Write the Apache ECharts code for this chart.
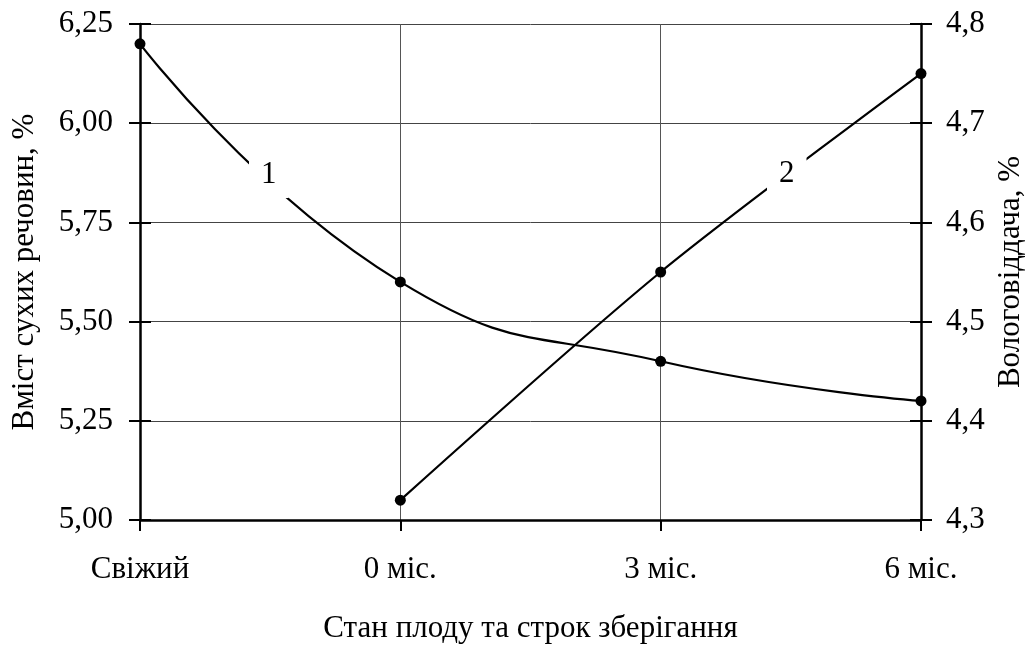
<!DOCTYPE html>
<html>
<head>
<meta charset="utf-8">
<script src="https://cdn.jsdelivr.net/npm/echarts@6/dist/echarts.min.js"></script>
<style>
  html, body { margin: 0; padding: 0; background: #fff; }
  #chart { width: 1033px; height: 645px; }
</style>
</head>
<body>
<div id="chart"></div>
<script>
// дані з графіка
var categories = ['Свіжий', '0 міс.', '3 міс.', '6 міс.'];
var dryMatter = [6.20, 5.60, 5.40, 5.30];      // крива 1, ліва вісь
var moistureLoss = [null, 4.32, 4.55, 4.75];   // крива 2, права вісь

var font = 'Liberation Serif';
var fs = 31;

function comma(digits) {
    return function (v) { return v.toFixed(digits).replace('.', ','); };
}

var chart = echarts.init(document.getElementById('chart'));

var option = {
    animation: false,
    backgroundColor: '#fff',
    textStyle: {fontFamily: font, color: '#000'},
    grid: {left: 140, right: 112, top: 24, bottom: 125, outerBoundsMode: 'none', containLabel: false},
    xAxis: {
        type: 'category',
        data: categories,
        boundaryGap: false,
        name: 'Стан плоду та строк зберігання',
        nameLocation: 'middle',
        nameGap: 93,
        nameTextStyle: {fontSize: fs, fontFamily: font, color: '#000'},
        axisLine: {lineStyle: {color: '#000', width: 2.5}},
        axisTick: {show: true, alignWithLabel: true, length: 11, lineStyle: {color: '#000', width: 2}},
        axisLabel: {fontSize: fs, fontFamily: font, color: '#000', margin: 34},
        splitLine: {show: true, lineStyle: {color: '#555', width: 1}}
    },
    yAxis: [
        {
            type: 'value',
            position: 'left',
            min: 5, max: 6.25, interval: 0.25,
            name: 'Вміст сухих речовин, %',
            nameLocation: 'middle',
            nameGap: 100,
            nameRotate: 90,
            nameTextStyle: {fontSize: fs, fontFamily: font, color: '#000'},
            axisLine: {show: true, lineStyle: {color: '#000', width: 2.5}},
            axisTick: {show: true, length: 11, lineStyle: {color: '#000', width: 2}},
            axisLabel: {fontSize: fs, fontFamily: font, color: '#000', margin: 27, formatter: comma(2)},
            splitLine: {show: true, lineStyle: {color: '#444', width: 1}}
        },
        {
            type: 'value',
            position: 'right',
            min: 4.3, max: 4.8, interval: 0.1,
            name: 'Вологовіддача, %',
            nameLocation: 'middle',
            nameGap: 74,
            nameRotate: 90,
            nameTextStyle: {fontSize: fs, fontFamily: font, color: '#000'},
            axisLine: {show: true, lineStyle: {color: '#000', width: 2.5}},
            axisTick: {show: true, length: 11, lineStyle: {color: '#000', width: 2}},
            axisLabel: {fontSize: fs, fontFamily: font, color: '#000', margin: 25, formatter: comma(1)},
            splitLine: {show: false}
        },
        // внутрішні половинки рисок, щоб риски перетинали осі
        {
            type: 'value', position: 'left', min: 5, max: 6.25, interval: 0.25,
            axisLine: {show: false}, axisLabel: {show: false}, splitLine: {show: false},
            axisTick: {show: true, inside: true, length: 11, lineStyle: {color: '#000', width: 2}}
        },
        {
            type: 'value', position: 'right', min: 4.3, max: 4.8, interval: 0.1,
            axisLine: {show: false}, axisLabel: {show: false}, splitLine: {show: false},
            axisTick: {show: true, inside: true, length: 11, lineStyle: {color: '#000', width: 2}}
        }
    ],
    series: [
        {
            name: '1',
            type: 'line',
            yAxisIndex: 0,
            data: dryMatter,
            smooth: 0.5,
            symbol: 'circle',
            symbolSize: 11,
            itemStyle: {color: '#000'},
            lineStyle: {color: '#000', width: 2.2},
            z: 3
        },
        {
            name: '2',
            type: 'line',
            yAxisIndex: 1,
            data: moistureLoss,
            smooth: 0.3,
            connectNulls: false,
            symbol: 'circle',
            symbolSize: 11,
            itemStyle: {color: '#000'},
            lineStyle: {color: '#000', width: 2.2},
            z: 3
        }
    ],
    graphic: [
        {
            type: 'text', left: 249, top: 151, z: 100,
            style: {text: '1', font: fs + 'px "Liberation Serif"', fill: '#000',
                backgroundColor: '#fff', padding: [8, 12, 8, 12]}
        },
        {
            type: 'text', left: 767, top: 150, z: 100,
            style: {text: '2', font: fs + 'px "Liberation Serif"', fill: '#000',
                backgroundColor: '#fff', padding: [8, 12, 8, 12]}
        }
    ]
};

chart.setOption(option);
</script>
</body>
</html>
